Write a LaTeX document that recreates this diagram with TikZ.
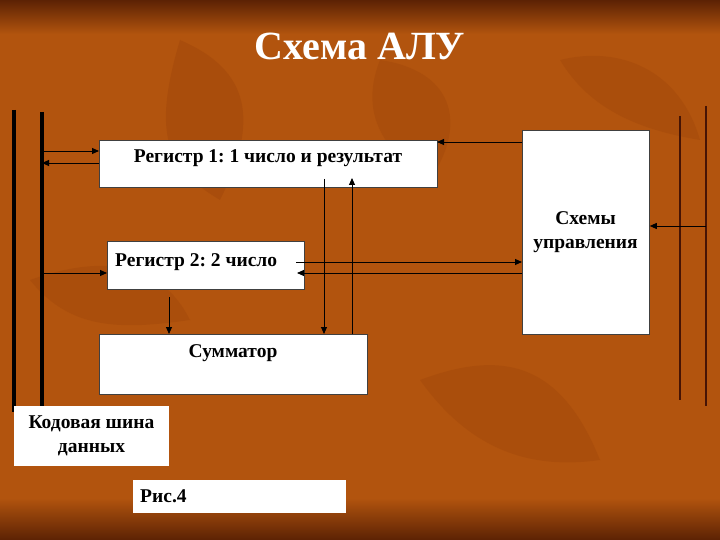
\documentclass[tikz,border=0pt]{standalone}
\usepackage{fontspec}
\setmainfont{Liberation Serif}
\frenchspacing
\usetikzlibrary{arrows.meta}
\definecolor{bgmid}{RGB}{178,84,14}
\definecolor{bgdark}{RGB}{92,34,4}
\definecolor{bgleaf}{RGB}{160,70,10}
\definecolor{rline}{RGB}{70,20,5}
\tikzset{
  box/.style={draw=black!75, line width=0.8pt, fill=white, inner sep=0pt, anchor=north west},
  plainbox/.style={fill=white, inner sep=0pt, anchor=north west},
  txt/.style={font=\bfseries\fontsize{19.5}{24}\selectfont, inner sep=0pt},
  arr/.style={line width=0.9pt, -{Triangle[length=7pt,width=6pt]}},
  bus/.style={line width=3.4pt, black},
  rbus/.style={line width=1.8pt, rline}
}
\begin{document}
\begin{tikzpicture}[x=1pt,y=-1pt]
\useasboundingbox (0,0) rectangle (720,540);
% background
\fill[bgmid] (0,0) rectangle (720,540);
\shade[top color=bgdark, bottom color=bgmid] (0,0) rectangle (720,34);
\shade[top color=bgmid, bottom color=bgdark] (0,498) rectangle (720,540);
% subtle leaf shapes
\fill[bgleaf, opacity=0.45] (180,40) .. controls (250,70) and (260,120) .. (220,200) .. controls (170,170) and (150,140) .. cycle;
\fill[bgleaf, opacity=0.4] (380,60) .. controls (450,70) and (470,120) .. (430,180) .. controls (380,150) and (360,110) .. cycle;
\fill[bgleaf, opacity=0.4] (30,280) .. controls (100,255) and (160,260) .. (190,320) .. controls (120,330) and (70,330) .. cycle;
\fill[bgleaf, opacity=0.4] (420,380) .. controls (500,350) and (560,360) .. (600,460) .. controls (530,470) and (470,450) .. cycle;
\fill[bgleaf, opacity=0.4] (560,60) .. controls (620,45) and (680,70) .. (700,140) .. controls (640,130) and (590,110) .. cycle;

% title
\node[font=\bfseries\fontsize{40}{44}\selectfont, text=white, inner sep=0pt] (title) at (360,46) {Схема АЛУ};

% buses
\coordinate (lb1t) at (14,110); \coordinate (lb1b) at (14,412);
\coordinate (lb2t) at (42,112); \coordinate (lb2b) at (42,412);
\draw[bus] (lb1t) -- (lb1b);
\draw[bus] (lb2t) -- (lb2b);
\coordinate (rb1t) at (680,116); \coordinate (rb1b) at (680,400);
\coordinate (rb2t) at (706,106); \coordinate (rb2b) at (706,406);
\draw[rbus] (rb1t) -- (rb1b);
\draw[rbus] (rb2t) -- (rb2b);

% boxes
\node[box, minimum width=338pt, minimum height=47pt] (reg1) at (99,140) {};
\node[txt] (reg1t) at (268,158.5) {Регистр 1: 1 число и результат};
\node[box, minimum width=197pt, minimum height=48pt] (reg2) at (107,241) {};
\node[txt, anchor=west] (reg2t) at (115,262.5) {Регистр 2: 2 число};
\node[box, minimum width=268pt, minimum height=60pt] (sum) at (99,334) {};
\node[txt] (sumt) at (233,353.5) {Сумматор};
\node[box, minimum width=127pt, minimum height=204pt] (ctl) at (522,130) {};
\node[txt, align=center] (ctlt) at (585.5,232) {Схемы\\управления};
\node[plainbox, minimum width=155pt, minimum height=60pt] (bus) at (14,406) {};
\node[txt, align=center] (bust) at (91.5,436) {Кодовая шина\\данных};
\node[plainbox, minimum width=213pt, minimum height=33pt] (fig) at (133,480) {};
\node[txt, anchor=west] (figt) at (140,496.5) {Рис.4};

% connectors
\coordinate (a1) at (40,151);
\draw[arr] (a1) -- (reg1.west |- a1);
\coordinate (a2) at (42,163);
\draw[arr] (reg1.west |- a2) -- (a2);
\coordinate (a3) at (42,273);
\draw[arr] (a3) -- (reg2.west |- a3);
\coordinate (a4) at (296,262);
\draw[arr] (a4) -- (ctl.west |- a4);
\coordinate (a5) at (297,273);
\draw[arr] (ctl.west |- a5) -- (a5);
\coordinate (a6) at (437,142);
\draw[arr] (ctl.west |- a6) -- (a6);
\coordinate (a7) at (706,226);
\draw[arr] (a7) -- (ctl.east |- a7);
\coordinate (a8) at (169,297);
\draw[arr] (a8) -- (sum.north -| a8);
\coordinate (a9) at (324,179);
\draw[arr] (a9) -- (sum.north -| a9);
\coordinate (a10) at (352,178);
\draw[arr] (sum.north -| a10) -- (a10);
\end{tikzpicture}
\end{document}
